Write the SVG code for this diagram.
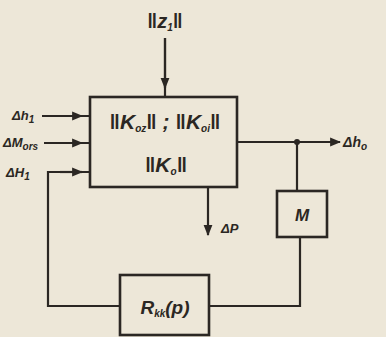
<svg xmlns="http://www.w3.org/2000/svg" width="386" height="337" viewBox="0 0 386 337">
<defs>
<style>
.ln{fill:none;stroke:#2b2723;stroke-width:2.2;stroke-linejoin:miter}
.bx{fill:none;stroke:#2b2723;stroke-width:2.6}
.t{font-family:"Liberation Sans",Arial,sans-serif;font-weight:bold;font-style:italic;fill:#2b2723}
.s{font-size:10px}
</style>
<marker id="ah" viewBox="0 0 10 10" refX="9" refY="5" markerWidth="5" markerHeight="5" orient="auto" markerUnits="strokeWidth">
<path d="M0,1 L10,5 L0,9 z" fill="#2b2723"/>
</marker>
</defs>
<rect width="386" height="337" fill="#ede7d8"/>
<g id="connectors">
<line class="ln" x1="165" y1="38" x2="165" y2="96"/>
<line class="ln" x1="165" y1="38" x2="165" y2="88" marker-end="url(#ah)"/>
<line class="ln" x1="42" y1="116" x2="89" y2="116"/>
<line class="ln" x1="42" y1="116" x2="82" y2="116" marker-end="url(#ah)"/>
<line class="ln" x1="44" y1="143" x2="89" y2="143"/>
<line class="ln" x1="44" y1="143" x2="82" y2="143" marker-end="url(#ah)"/>
<polyline class="ln" points="120,306 48,306 48,172 89,172"/>
<line class="ln" x1="60" y1="172" x2="82" y2="172" marker-end="url(#ah)"/>
<line class="ln" x1="238" y1="142" x2="340" y2="142" marker-end="url(#ah)"/>
<circle cx="297" cy="142" r="3" fill="#2b2723"/>
<line class="ln" x1="297" y1="142" x2="297" y2="191"/>
<polyline class="ln" points="209,306 300,306 300,237"/>
<line class="ln" x1="208" y1="188" x2="208" y2="235" marker-end="url(#ah)"/>
</g>
<g id="z1">
<text class="t" x="165" y="28" font-size="20" text-anchor="middle">‖z<tspan class="s" dy="3">1</tspan><tspan dy="-3">‖</tspan></text>
</g>
<g id="main">
<rect class="bx" x="90" y="97" width="147" height="90"/>
<text class="t" x="165" y="129" font-size="21" text-anchor="middle">‖K<tspan class="s" dy="3">oz</tspan><tspan dy="-3">‖ ; ‖K</tspan><tspan class="s" dy="3">oi</tspan><tspan dy="-3">‖</tspan></text>
<text class="t" x="166" y="172" font-size="21" text-anchor="middle">‖K<tspan class="s" dy="3">o</tspan><tspan dy="-3">‖</tspan></text>
</g>
<g id="M">
<rect class="bx" x="277" y="191" width="50" height="46"/>
<text class="t" x="302" y="221" font-size="17" text-anchor="middle">M</text>
</g>
<g id="R">
<rect class="bx" x="120" y="275" width="89" height="60"/>
<text class="t" x="165" y="314" font-size="19" text-anchor="middle">R<tspan class="s" dy="3">kk</tspan><tspan dy="-3">(p)</tspan></text>
</g>
<g id="labels">
<text class="t" x="12" y="120" font-size="13">Δh<tspan class="s" dy="3">1</tspan></text>
<text class="t" x="3" y="147" font-size="13">ΔM<tspan class="s" dy="3">ors</tspan></text>
<text class="t" x="6" y="177" font-size="13">ΔH<tspan class="s" dy="3">1</tspan></text>
<text class="t" x="343" y="147" font-size="14">Δh<tspan class="s" dy="3">o</tspan></text>
<text class="t" x="221" y="233" font-size="13">ΔP</text>
</g>
</svg>
